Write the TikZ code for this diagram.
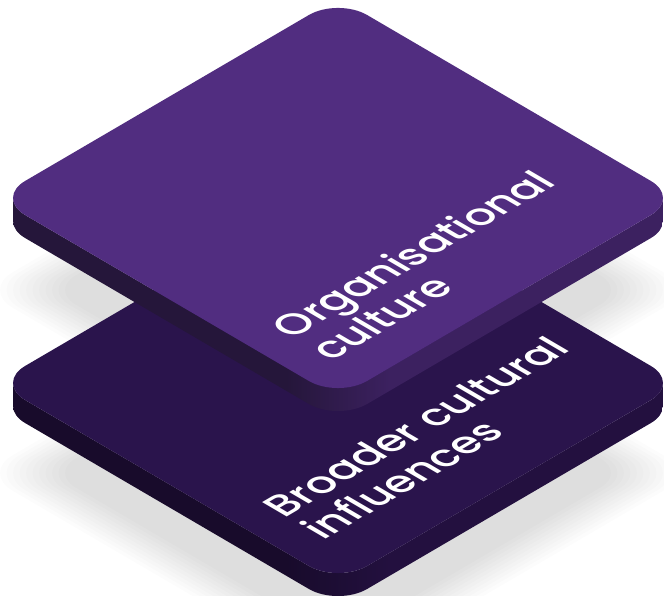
\documentclass[tikz,border=0pt]{standalone}
\usepackage{fontspec}
\setmainfont{Poppins}[UprightFont=* Medium]

% colours of the two slabs
\definecolor{topface}{RGB}{81,45,128}
\definecolor{topsideL}{RGB}{37,22,58}
\definecolor{topsideR}{RGB}{60,33,96}
\definecolor{botface}{RGB}{42,20,76}
\definecolor{botsideL}{RGB}{24,11,43}
\definecolor{botsideR}{RGB}{35,16,63}

% side shadings: darker left face, lighter right face
\pgfdeclarehorizontalshading{topside}{100bp}{color(0bp)=(topsideL); color(46bp)=(topsideL); color(54bp)=(topsideR); color(100bp)=(topsideR)}
\pgfdeclarehorizontalshading{botside}{100bp}{color(0bp)=(botsideL); color(46bp)=(botsideL); color(54bp)=(botsideR); color(100bp)=(botsideR)}

\newcommand\crad{0.17}
\newcommand\slabt{23pt}

% rounded square face in the isometric (u,v) plane
\newcommand\facepath{(-1+\crad,-1) -- (1-\crad,-1) arc[start angle=-90,end angle=0,radius=\crad] -- (1,1-\crad) arc[start angle=0,end angle=90,radius=\crad] -- (-1+\crad,1) arc[start angle=90,end angle=180,radius=\crad] -- (-1,-1+\crad) arc[start angle=180,end angle=270,radius=\crad] -- cycle}

% visible thickness of a slab: lower outline extruded downwards
\newcommand\sidepath{(-1+\crad-\crad*0.7071,-1+\crad-\crad*0.7071) arc[start angle=225,end angle=270,radius=\crad] -- (1-\crad,-1) arc[start angle=-90,end angle=0,radius=\crad] -- (1,1-\crad) arc[start angle=0,end angle=45,radius=\crad] -- ([yshift=-\slabt]1-\crad+\crad*0.7071,1-\crad+\crad*0.7071) arc[start angle=45,end angle=0,radius=\crad] -- ([yshift=-\slabt]1,-1+\crad) arc[start angle=0,end angle=-90,radius=\crad] -- ([yshift=-\slabt]-1+\crad,-1) arc[start angle=270,end angle=225,radius=\crad] -- cycle}

\tikzset{
  iso/.style={x={(171pt,-100pt)}, y={(171pt,100pt)}},
  isotext/.style={cm={0.863,0.505,-0.863,0.505,(0,0)}},
  slablabel/.style={text=white, inner sep=0pt, align=left, transform shape,
    font=\fontsize{41}{45}\selectfont},
  softshadow/.style={fill=black, opacity=0.011},
}

\begin{document}
\begin{tikzpicture}[x=1pt,y=1pt]
\useasboundingbox (0,0) rectangle (664,595);
\fill[white] (0,0) rectangle (664,595);

% soft ground shadows under both slabs
\foreach \s in {0.84,0.86,...,1.05}{
  \begin{scope}[shift={(338,305)}, scale=\s, iso]
    \fill[softshadow] \facepath;
  \end{scope}
  \begin{scope}[shift={(338,122)}, scale=\s, iso]
    \fill[softshadow] \facepath;
  \end{scope}
}

% lower slab
\begin{scope}[shift={(338,212)}, iso]
  \shade[shading=botside] \sidepath;
  \fill[botface] \facepath;
\end{scope}

% upper slab
\begin{scope}[shift={(338,397)}, iso]
  \shade[shading=topside] \sidepath;
  \fill[topface] \facepath;
\end{scope}

% labels lying on the slab tops (anchored at the last line's baseline)
\begin{scope}[shift={(331,233)}, isotext]
  \node[slablabel, anchor=base west] (toplabel) at (0,0) {Organisational\\culture};
\end{scope}
\begin{scope}[shift={(323,54)}, isotext]
  \node[slablabel, anchor=base west] (bottomlabel) at (0,0) {Broader cultural\\influences};
\end{scope}
\end{tikzpicture}
\end{document}
